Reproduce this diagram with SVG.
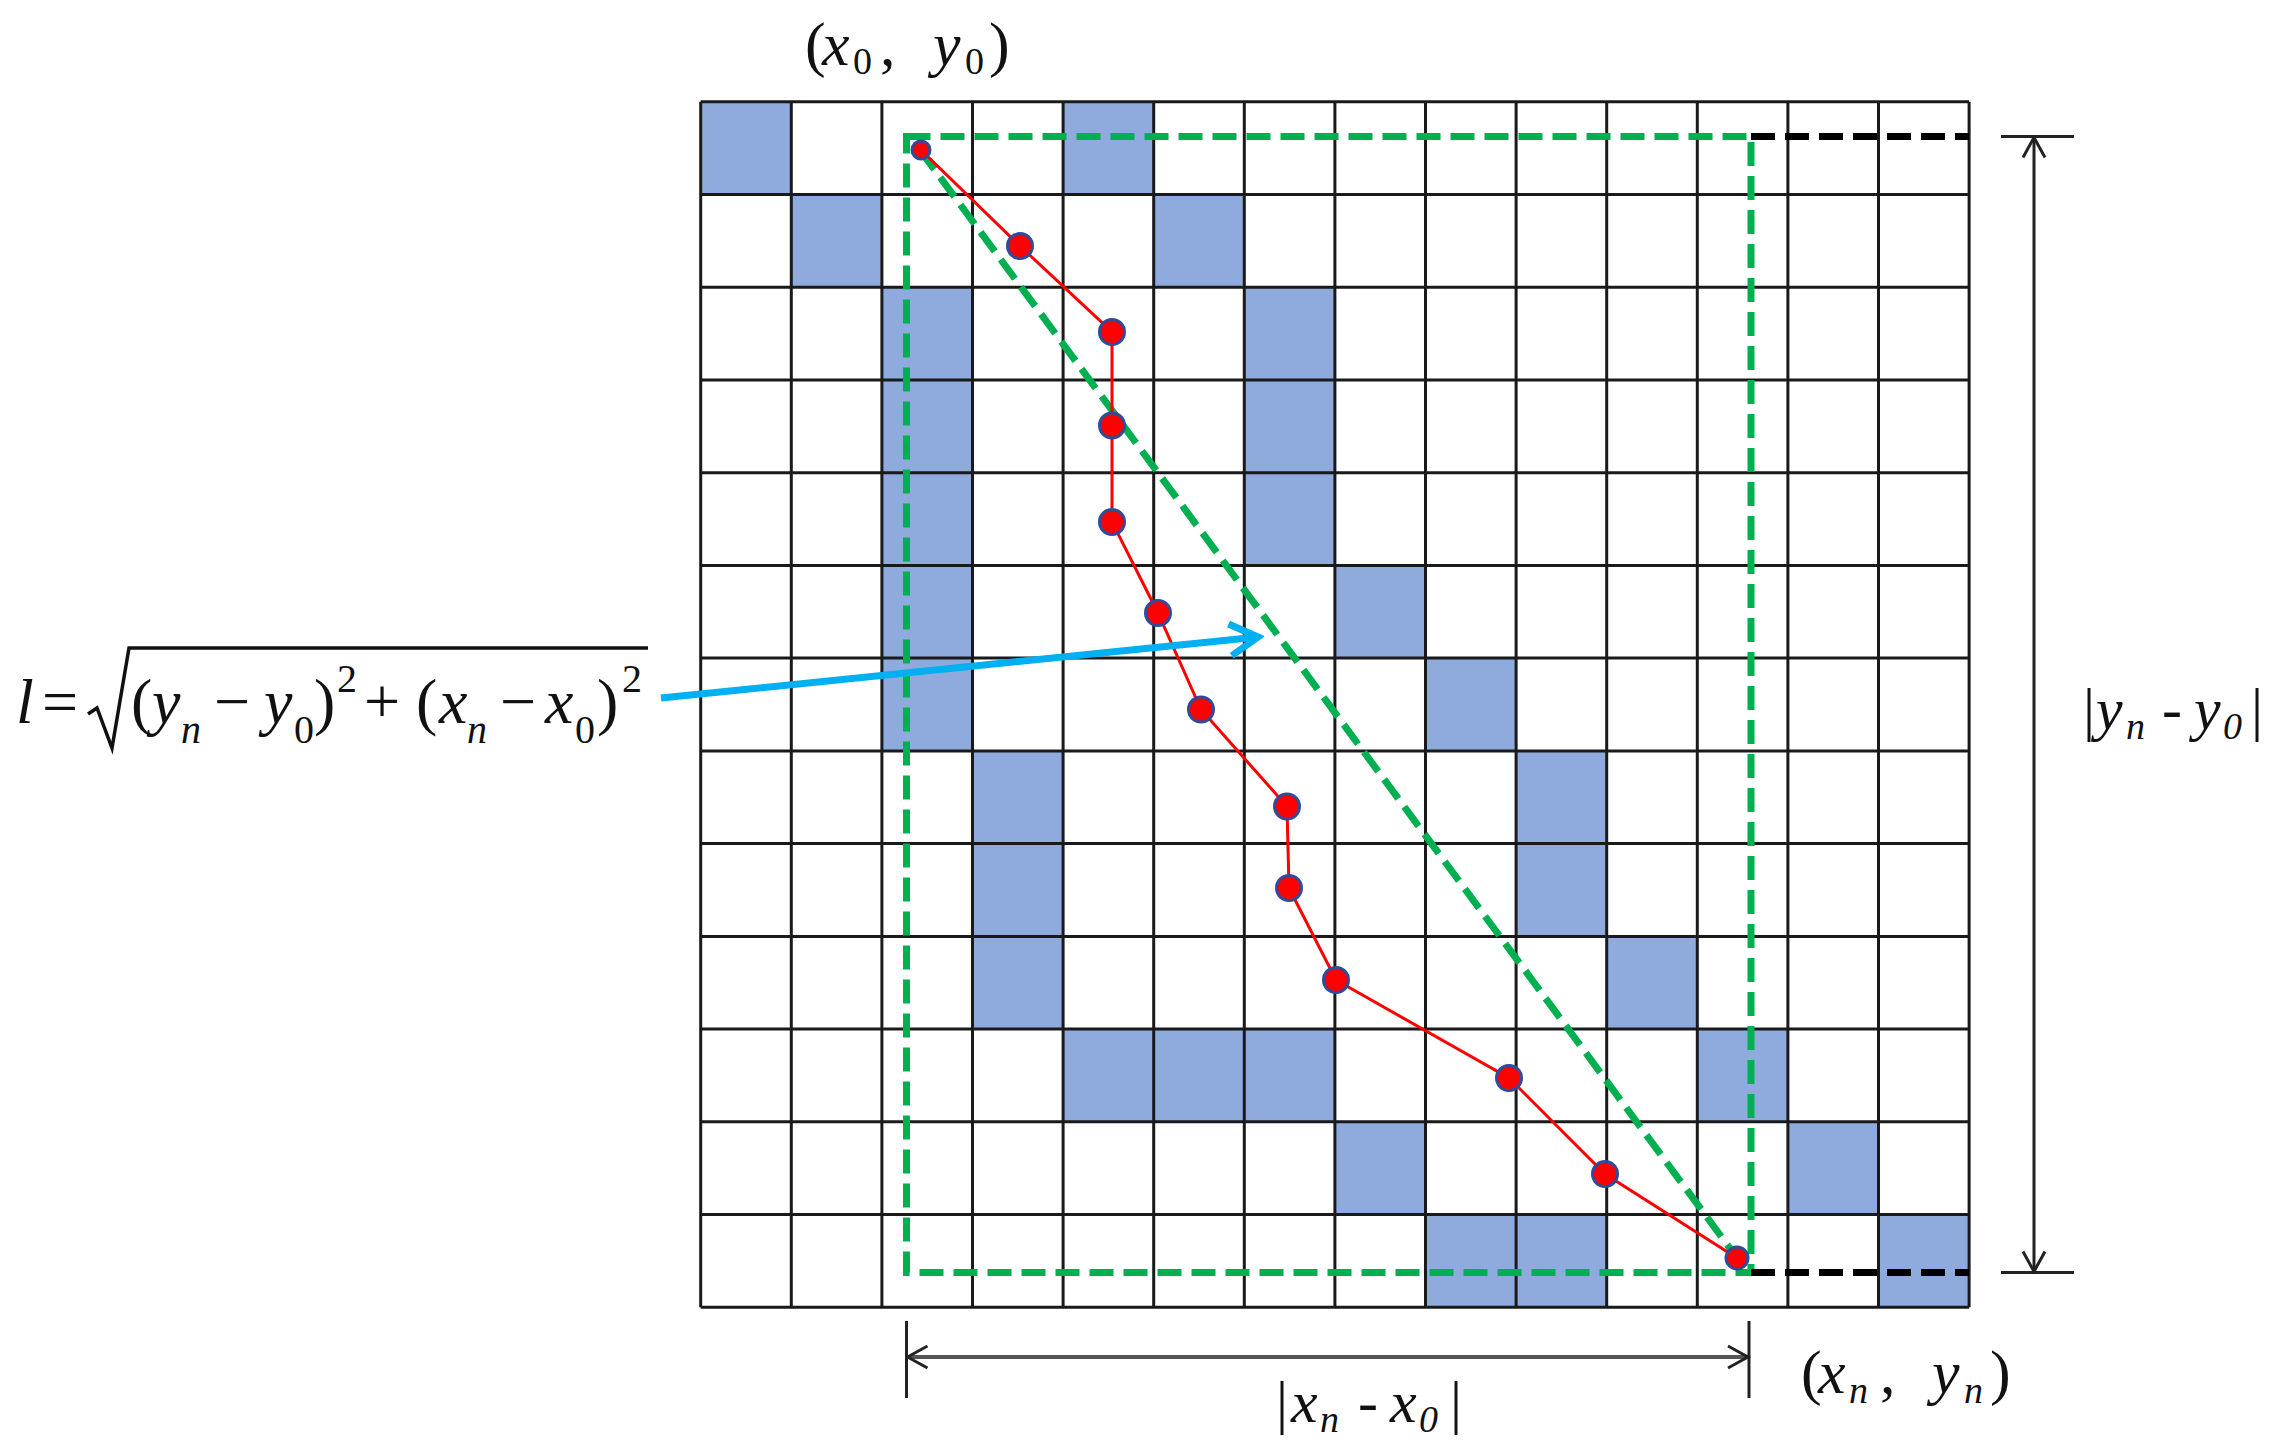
<svg xmlns="http://www.w3.org/2000/svg" width="2284" height="1455" viewBox="0 0 2284 1455">
<style>
.cell{fill:#8faadc;stroke:none}
.gl{stroke:#1a1a1a;stroke-width:3;fill:none}
.gd{stroke:#00b050;stroke-width:7;stroke-dasharray:24 10;fill:none}
.kd{stroke:#000;stroke-width:7;stroke-dasharray:24 10;fill:none}
.rp{stroke:#ff0000;stroke-width:3;fill:none}
.dot{fill:#ff0000;stroke:#2f4b9a;stroke-width:3}
.dim{stroke:#222;stroke-width:3;fill:none}
.dimh{stroke:#555;stroke-width:4;fill:none}
.t{font-family:"Liberation Serif",serif;fill:#111}
.i{font-style:italic}
</style>
<defs>
<marker id="openV" viewBox="0 0 26 28" refX="23" refY="14" markerWidth="26" markerHeight="28" orient="auto-start-reverse" markerUnits="userSpaceOnUse">
<path d="M3,3 L23,14 L3,25" fill="none" stroke="#222" stroke-width="3"/>
</marker>
<marker id="blueV" viewBox="0 0 40 40" refX="34" refY="20" markerWidth="40" markerHeight="40" orient="auto" markerUnits="userSpaceOnUse">
<path d="M6,4 L34,20 L6,36" fill="none" stroke="#00b0f0" stroke-width="7"/>
</marker>
</defs>
<rect x="0" y="0" width="2284" height="1455" fill="#fff"/>

<g id="cells">
<rect class="cell" x="700.7" y="101.7" width="90.6" height="92.7"/>
<rect class="cell" x="1063.1" y="101.7" width="90.6" height="92.7"/>
<rect class="cell" x="791.3" y="194.4" width="90.6" height="92.7"/>
<rect class="cell" x="1153.7" y="194.4" width="90.6" height="92.7"/>
<rect class="cell" x="881.9" y="287.2" width="90.6" height="463.7"/>
<rect class="cell" x="1244.3" y="287.2" width="90.6" height="278.2"/>
<rect class="cell" x="1334.9" y="565.4" width="90.6" height="92.7"/>
<rect class="cell" x="1425.5" y="658.1" width="90.6" height="92.7"/>
<rect class="cell" x="972.5" y="750.9" width="90.6" height="278.2"/>
<rect class="cell" x="1516.1" y="750.9" width="90.6" height="185.5"/>
<rect class="cell" x="1606.7" y="936.4" width="90.6" height="92.7"/>
<rect class="cell" x="1063.1" y="1029.1" width="271.8" height="92.7"/>
<rect class="cell" x="1697.3" y="1029.1" width="90.6" height="92.7"/>
<rect class="cell" x="1334.9" y="1121.8" width="90.6" height="92.7"/>
<rect class="cell" x="1787.9" y="1121.8" width="90.6" height="92.7"/>
<rect class="cell" x="1425.5" y="1214.6" width="181.2" height="92.7"/>
<rect class="cell" x="1878.5" y="1214.6" width="90.6" height="92.7"/>
</g>

<g id="grid" class="gl">
<path d="M700.7,101.7V1307.3M791.3,101.7V1307.3M881.9,101.7V1307.3M972.5,101.7V1307.3M1063.1,101.7V1307.3M1153.7,101.7V1307.3M1244.3,101.7V1307.3M1334.9,101.7V1307.3M1425.5,101.7V1307.3M1516.1,101.7V1307.3M1606.7,101.7V1307.3M1697.3,101.7V1307.3M1787.9,101.7V1307.3M1878.5,101.7V1307.3M1969.1,101.7V1307.3"/>
<path d="M700.7,101.7H1969.1M700.7,194.4H1969.1M700.7,287.2H1969.1M700.7,379.9H1969.1M700.7,472.7H1969.1M700.7,565.4H1969.1M700.7,658.1H1969.1M700.7,750.9H1969.1M700.7,843.6H1969.1M700.7,936.4H1969.1M700.7,1029.1H1969.1M700.7,1121.8H1969.1M700.7,1214.6H1969.1M700.7,1307.3H1969.1"/>
</g>

<g id="bounding-box">
<rect class="gd" x="906.5" y="136.5" width="844.5" height="1136"/>
<path class="kd" d="M1751,136.5H1969M1751,1272.5H1969"/>
<path class="gd" d="M920,150L1740,1262"/>
</g>

<g id="connectors">
<polyline id="path" class="rp" points="921,150 1020,246 1112,332 1112,425.5 1112,522 1158,613 1201,709.5 1287,806.5 1289,888 1336,980 1509,1078 1605,1174 1737,1258"/>
<path id="arrow-l" d="M661,698L1258,637" stroke="#00b0f0" stroke-width="7" fill="none" marker-end="url(#blueV)"/>
<path id="dim-y" class="dim" d="M2034,137.5V1271.5" marker-start="url(#openV)" marker-end="url(#openV)"/>
<path id="dim-x" class="dimh" d="M907.5,1357H1748" marker-start="url(#openV)" marker-end="url(#openV)"/>
<path class="dim" d="M2001,136.5H2074M2001,1272.5H2074"/>
<path class="dim" d="M906.5,1321V1398M1749,1321V1398"/>
</g>

<g id="points">
<circle class="dot" cx="921" cy="150" r="9"/>
<circle class="dot" cx="1020" cy="246" r="12.5"/>
<circle class="dot" cx="1112" cy="332" r="12.5"/>
<circle class="dot" cx="1112" cy="425.5" r="12.5"/>
<circle class="dot" cx="1112" cy="522" r="12.5"/>
<circle class="dot" cx="1158" cy="613" r="12.5"/>
<circle class="dot" cx="1201" cy="709.5" r="12.5"/>
<circle class="dot" cx="1287" cy="806.5" r="12.5"/>
<circle class="dot" cx="1289" cy="888" r="12.5"/>
<circle class="dot" cx="1336" cy="980" r="12.5"/>
<circle class="dot" cx="1509" cy="1078" r="12.5"/>
<circle class="dot" cx="1605" cy="1174" r="12.5"/>
<circle class="dot" cx="1737" cy="1258" r="11"/>
</g>

<g id="label-start">
<text class="t" font-size="62"><tspan x="805" y="65">(</tspan><tspan class="i" x="822" y="65">x</tspan><tspan x="853" y="74" font-size="38">0</tspan><tspan x="880" y="65">,</tspan><tspan class="i" x="933" y="65">y</tspan><tspan x="965" y="74" font-size="38">0</tspan><tspan x="989" y="65">)</tspan></text>
</g>

<g id="label-end">
<text class="t" font-size="62"><tspan x="1801" y="1393">(</tspan><tspan class="i" x="1818" y="1393">x</tspan><tspan class="i" x="1849" y="1403" font-size="38">n</tspan><tspan x="1880" y="1393">,</tspan><tspan class="i" x="1932" y="1393">y</tspan><tspan class="i" x="1964" y="1403" font-size="38">n</tspan><tspan x="1990" y="1393">)</tspan></text>
</g>

<g id="label-dy">
<text class="t" font-size="60"><tspan x="2083" y="729">|</tspan><tspan class="i" x="2096" y="729">y</tspan><tspan class="i" x="2126" y="739" font-size="38">n</tspan><tspan x="2162" y="729">-</tspan><tspan class="i" x="2194" y="729">y</tspan><tspan class="i" x="2223" y="739" font-size="38">0</tspan><tspan x="2251" y="729">|</tspan></text>
</g>

<g id="label-dx">
<text class="t" font-size="60"><tspan x="1276" y="1422">|</tspan><tspan class="i" x="1291" y="1422">x</tspan><tspan class="i" x="1320" y="1432" font-size="38">n</tspan><tspan x="1358" y="1422">-</tspan><tspan class="i" x="1390" y="1422">x</tspan><tspan class="i" x="1419" y="1432" font-size="38">0</tspan><tspan x="1450" y="1422">|</tspan></text>
</g>

<g id="formula">
<polyline points="88,714 97,708 112,748 129,648 648,648" fill="none" stroke="#111" stroke-width="3.5"/>
<text class="t" font-size="64"><tspan class="i" x="16" y="723">l</tspan><tspan x="42" y="723">=</tspan><tspan x="131" y="723">(</tspan><tspan class="i" x="152" y="723">y</tspan><tspan class="i" x="181" y="743" font-size="40">n</tspan><tspan x="214" y="723">−</tspan><tspan class="i" x="264" y="723">y</tspan><tspan x="294" y="743" font-size="40">0</tspan><tspan x="314" y="723">)</tspan><tspan x="337" y="692" font-size="40">2</tspan><tspan x="364" y="723">+</tspan><tspan x="416" y="723">(</tspan><tspan class="i" x="439" y="723">x</tspan><tspan class="i" x="467" y="743" font-size="40">n</tspan><tspan x="500" y="723">−</tspan><tspan class="i" x="545" y="723">x</tspan><tspan x="575" y="743" font-size="40">0</tspan><tspan x="597" y="723">)</tspan><tspan x="622" y="692" font-size="40">2</tspan></text>
</g>
</svg>
